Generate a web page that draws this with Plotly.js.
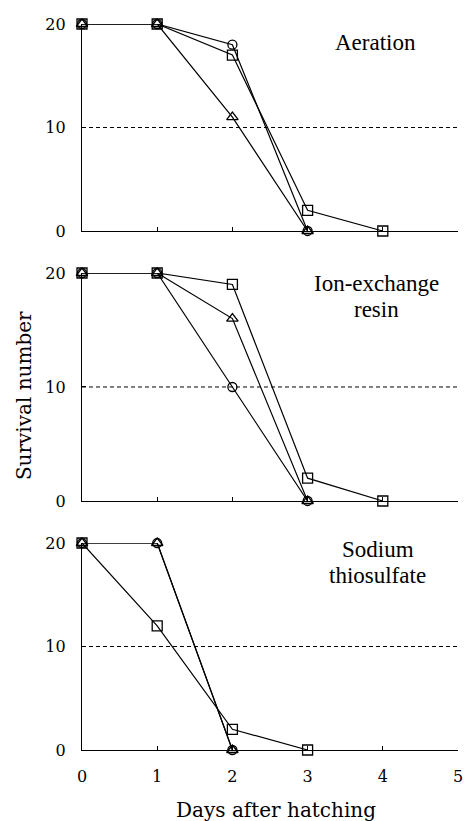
<!DOCTYPE html>
<html>
<head>
<meta charset="utf-8">
<script src="https://cdn.plot.ly/plotly-3.0.1.min.js"></script>
<style>html,body{margin:0;padding:0;background:#fff;}#chart{width:466px;height:821px;}</style>
</head>
<body>
<div id="chart"></div>
<script>
// Data
const days = [0, 1, 2, 3, 4];
const panelNames = ["Aeration", "Ion-exchange<br>resin", "Sodium<br>thiosulfate"];
const aerationCircle = [20, 20, 18, 0];
const aerationSquare = [20, 20, 17, 2, 0];
const aerationTriangle = [20, 20, 11, 0];
const ionCircle = [20, 20, 10, 0];
const ionSquare = [20, 20, 19, 2, 0];
const ionTriangle = [20, 20, 16, 0];
const sodiumCircle = [20, 20, 0];
const sodiumSquare = [20, 12, 2, 0];
const sodiumTriangle = [20, 20, 0];
const halfLine = [10];
const xTicks = [0, 1, 2, 3, 4, 5];
const yTicks = [0, 10, 20];

const symbols = {circle: 'circle-open', square: 'square-open', triangle: 'triangle-up-open'};
const sizes = {circle: 9, square: 10, triangle: 10};

function tr(vals, kind, ax) {
  return {
    x: days.slice(0, vals.length), y: vals,
    xaxis: 'x' + ax, yaxis: 'y' + ax,
    type: 'scatter', mode: 'lines+markers',
    line: {color: '#000', width: 1.2},
    marker: {symbol: symbols[kind], size: sizes[kind], color: '#000', line: {width: 1.3, color: '#000'}},
    cliponaxis: false, showlegend: false, hoverinfo: 'x+y'
  };
}

const data = [
  tr(aerationTriangle, 'triangle', ''), tr(aerationSquare, 'square', ''), tr(aerationCircle, 'circle', ''),
  tr(ionTriangle, 'triangle', '2'), tr(ionSquare, 'square', '2'), tr(ionCircle, 'circle', '2'),
  tr(sodiumTriangle, 'triangle', '3'), tr(sodiumSquare, 'square', '3'), tr(sodiumCircle, 'circle', '3')
];

const tickFont = {family: 'DejaVu Serif', size: 16, color: '#000'};
function xa(show, dom) {
  return {domain: [0, 1], range: [0, 5], tickvals: xTicks, showticklabels: show,
    ticks: 'inside', ticklen: 4, tickcolor: '#000', tickwidth: 1,
    showline: true, linecolor: '#000', linewidth: 1.2, showgrid: false, zeroline: false,
    tickfont: tickFont, ticklabelstandoff: 12, anchor: dom, fixedrange: true};
}
function ya(dom) {
  return {domain: dom, range: [0, 20], tickvals: yTicks,
    ticks: 'inside', ticklen: 4, tickcolor: '#000', tickwidth: 1,
    showline: true, linecolor: '#000', linewidth: 1.2, showgrid: false, zeroline: false,
    tickfont: tickFont, ticklabelstandoff: 12, fixedrange: true};
}

// Panel label positions (data coords) and line spacing
const labelPos = [[3.9, 18.25, ''], [3.92, 17.9, '2'], [3.93, 18.1, '3']];
const labelAnnotations = [];
panelNames.forEach((name, i) => {
  const lines = name.split('<br>');
  const n = lines.length;
  lines.forEach((ln, j) => {
    labelAnnotations.push({text: ln, xref: 'x' + labelPos[i][2], yref: 'y' + labelPos[i][2],
      x: labelPos[i][0], y: labelPos[i][1], yshift: ((n - 1) / 2 - j) * 26,
      showarrow: false, xanchor: 'center', yanchor: 'middle',
      font: {family: 'Liberation Serif', size: 23, color: '#000'}});
  });
});

const layout = {
  width: 466, height: 821,
  margin: {l: 82, r: 8, t: 24, b: 71},
  paper_bgcolor: '#fff', plot_bgcolor: '#fff',
  xaxis: xa(false, 'y'), yaxis: Object.assign(ya([0.7149, 1.0]), {anchor: 'x'}),
  xaxis2: xa(false, 'y2'), yaxis2: Object.assign(ya([0.3430, 0.6570]), {anchor: 'x2'}),
  xaxis3: xa(true, 'y3'), yaxis3: Object.assign(ya([0, 0.2851]), {anchor: 'x3'}),
  shapes: ['', '2', '3'].map(a => ({type: 'line', xref: 'x' + a, yref: 'y' + a,
    x0: 0, x1: 5, y0: halfLine[0], y1: halfLine[0], line: {color: '#000', width: 1, dash: '4px,3px'}})),
  annotations: labelAnnotations.concat([
    {text: 'Days after hatching', xref: 'paper', yref: 'paper', x: 0.515, y: -0.0826, showarrow: false,
      xanchor: 'center', yanchor: 'middle', font: {family: 'DejaVu Serif', size: 20, color: '#000'}},
    {text: 'Survival number', xref: 'paper', yref: 'paper', x: -0.154, y: 0.4876, showarrow: false, textangle: -90,
      xanchor: 'center', yanchor: 'middle', font: {family: 'DejaVu Serif', size: 20, color: '#000'}}
  ])
};

Plotly.newPlot('chart', data, layout, {displayModeBar: false, staticPlot: true});
</script>
</body>
</html>
